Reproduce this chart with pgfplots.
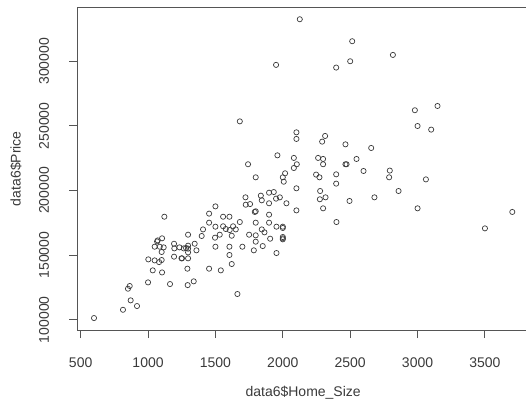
\documentclass[border=0pt]{standalone}
\usepackage{fontspec}
\setmainfont{Liberation Sans}
\usepackage{pgfplots}
\pgfplotsset{compat=1.18}
\definecolor{rgrey}{HTML}{3A3A3A}
\definecolor{raxis}{HTML}{555555}

\begin{document}
\fontsize{14}{16}\selectfont
\begin{tikzpicture}
\begin{axis}[
    scale only axis,
    width=451.7pt,
    height=322.7pt,
    xmin=475, xmax=3827,
    ymin=92050, ymax=341750,
    xtick={500,1000,1500,2000,2500,3000,3500},
    ytick={100000,150000,200000,250000,300000},
    scaled ticks=false,
    /pgf/number format/assume math mode=true,
    xticklabel={\pgfmathprintnumber[fixed,1000 sep={}]{\tick}},
    yticklabel={\pgfmathprintnumber[fixed,1000 sep={}]{\tick}},
    tick pos=left,
    tick align=outside,
    major tick length=8pt,
    axis line style={raxis, line width=0.9pt},
    every tick/.style={raxis, line width=0.9pt},
    tick label style={text=rgrey, font=\fontsize{14}{16}\selectfont},
    xticklabel style={anchor=north, inner xsep=0pt, inner ysep=20pt},
    yticklabel style={rotate=90, anchor=south, inner xsep=0pt, inner ysep=20pt},
    xlabel={data6\$Home\_Size},
    ylabel={data6\$Price},
    label style={text=rgrey, font=\fontsize{14}{16}\selectfont},
    xlabel style={at={(axis description cs:0.5,-0.2076)}, anchor=base},
    ylabel style={at={(axis description cs:-0.1257,0.5)}, anchor=base, rotate=0},
]
% Home_Size vs Price
\addplot[only marks, mark=o, mark size=2.6pt, rgrey, line width=0.7pt] coordinates {
(2126,332500) (2515,315500) (2817,304900) (1950,297200) (2396,295100) (2500,300000)
(2980,262100) (3148,265400) (3000,249900) (3101,247100) (1681,253500) (2101,245000)
(2101,239900) (2314,242200) (2292,237800) (2465,235700) (2656,232900) (1960,227200)
(2082,225200) (2262,225200) (2299,224400) (2547,224400) (1742,220300) (2104,220300)
(2299,220300) (2465,220300) (2473,220300) (2082,217400) (2017,213300) (2000,210200)
(1799,210200) (2247,212300) (2272,210200) (2396,212500) (2599,215100) (2794,215400)
(2789,210200) (3062,208600) (2396,205300) (2007,206800) (2101,201700) (2859,199600)
(2277,199600) (1898,198300) (1933,198800) (1837,196000) (1723,194700) (1978,194700)
(1950,193700) (2275,193200) (2317,194700) (2680,194700) (1844,192400) (1757,189500)
(1725,189000) (2495,191900) (1898,190100) (2027,190100) (2299,186200) (3000,186200)
(2101,184600) (3703,183400) (1792,183400) (1799,183900) (1500,187700) (1453,182100)
(1121,179700) (1557,179700) (1604,179700) (1898,181300) (1681,175600) (1453,175100)
(1799,175100) (1898,175100) (2398,175600) (1500,172000) (1557,172300) (1631,172300)
(1577,170200) (1606,169400) (1651,169900) (1408,169900) (1953,172000) (2000,172000)
(2000,171000) (1844,169900) (1864,167600) (1750,165800) (1799,165300) (1532,165800)
(1497,163500) (1621,165000) (1398,164800) (1297,165800) (2000,164000) (2000,163000)
(2000,162200) (1906,162700) (1799,160400) (1700,156500) (1500,156500) (1604,156500)
(1851,157000) (1785,153700) (1953,151600) (1604,150100) (1621,143100) (1453,139500)
(1540,138200) (1663,119900) (1339,129700) (1294,126800) (1292,139500) (1163,127600)
(1104,136600) (1035,138200) (1000,128900) (1002,146700) (1049,145900) (1082,144600)
(1101,146200) (1101,152400) (1049,156500) (1067,160600) (1072,161400) (1104,163000)
(1087,156500) (1116,156000) (1193,158800) (1195,155200) (1233,156000) (1193,148800)
(1248,147500) (1252,147500) (1297,147500) (1297,152100) (1297,155000) (1297,157300)
(1282,155500) (1265,155200) (1346,158800) (1359,153700) (864,126100) (851,124000)
(871,115000) (918,110600) (814,107700) (599,101300) (3500,170700)
};
\end{axis}
\pgfresetboundingbox
\path[use as bounding box] ([shift={(-77.3pt,-74pt)}]current axis.south west) rectangle ([shift={(448.7pt,7.3pt)}]current axis.north west);
\end{tikzpicture}
\end{document}
